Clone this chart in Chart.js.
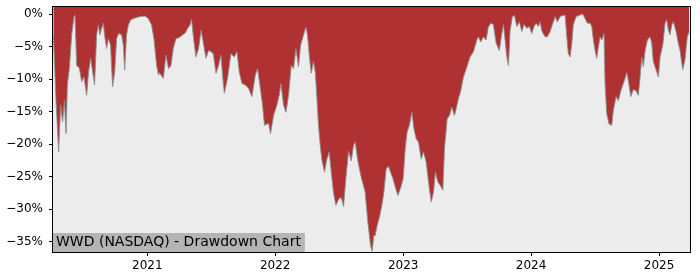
<!DOCTYPE html>
<html><head><meta charset="utf-8">
<script src="https://cdn.jsdelivr.net/npm/chart.js@4"></script>
<style>html,body{margin:0;padding:0;background:#fff}#wrap{width:700px;height:280px}</style>
</head><body><div id="wrap"><canvas id="c" width="700" height="280"></canvas></div>
<script>
// Time in decimal years, drawdown in percent
const dates = [
2020.266,2020.287,2020.307,2020.323,2020.338,2020.352,2020.365,2020.375,2020.391,2020.409,
2020.427,2020.435,2020.448,2020.469,2020.487,2020.505,2020.526,2020.541,2020.557,2020.573,
2020.588,2020.604,2020.617,2020.630,2020.643,2020.656,2020.670,2020.682,2020.695,2020.713,
2020.729,2020.745,2020.760,2020.776,2020.799,2020.813,2020.823,2020.838,2020.852,2020.870,
2020.904,2020.943,2020.982,2021.008,2021.034,2021.052,2021.073,2021.088,
2021.094,2021.125,2021.146,2021.166,2021.185,2021.203,2021.224,2021.250,2021.276,2021.297,
2021.315,2021.334,2021.346,2021.362,2021.380,2021.401,2021.420,2021.438,2021.459,2021.479,
2021.498,2021.516,2021.537,2021.557,2021.576,2021.588,2021.602,2021.627,2021.654,2021.680,
2021.701,2021.719,2021.740,2021.766,2021.791,2021.818,2021.844,2021.862,2021.880,2021.901,
2021.916,
2021.948,2021.963,2021.987,2022.013,2022.031,2022.045,2022.065,2022.084,2022.104,2022.125,
2022.143,2022.162,2022.182,2022.198,2022.213,2022.229,2022.240,2022.252,2022.266,2022.281,
2022.299,2022.313,2022.326,2022.338,2022.352,2022.365,2022.385,2022.404,2022.422,2022.438,
2022.455,2022.474,2022.495,2022.516,2022.534,2022.552,2022.573,2022.594,2022.612,2022.625,
2022.646,2022.672,2022.690,2022.703,2022.724,2022.745,
2022.758,2022.770,2022.781,2022.797,2022.815,2022.834,2022.849,2022.867,2022.885,2022.901,
2022.920,2022.938,2022.959,2022.979,2023.000,2023.016,2023.031,2023.049,2023.068,2023.084,
2023.102,2023.120,2023.141,2023.159,2023.180,2023.198,2023.219,2023.237,2023.252,2023.271,
2023.291,2023.310,2023.323,2023.344,2023.362,2023.380,2023.401,2023.414,2023.432,2023.448,
2023.471,2023.498,2023.523,2023.549,2023.576,2023.588,2023.607,2023.627,2023.648,2023.666,
2023.685,2023.705,2023.727,2023.752,2023.771,2023.784,2023.797,2023.810,2023.823,2023.836,
2023.854,2023.870,2023.888,2023.909,2023.927,2023.945,2023.966,2023.987,2024.005,2024.023,
2024.039,2024.057,2024.070,2024.086,2024.109,2024.127,2024.148,2024.170,2024.188,2024.205,
2024.227,2024.248,2024.266,2024.279,2024.291,2024.305,2024.318,2024.330,2024.352,2024.377,
2024.404,2024.422,2024.440,2024.461,2024.474,2024.487,2024.500,2024.513,2024.526,2024.539,
2024.552,2024.570,2024.578,2024.591,2024.609,2024.630,2024.643,2024.664,2024.682,2024.701,
2024.721,2024.748,2024.760,2024.779,2024.799,2024.820,2024.838,2024.852,2024.865,2024.877,
2024.891,2024.909,2024.930,2024.943,2024.955,2024.977,2024.995,2025.008,2025.029,2025.047,
2025.060,2025.073,2025.086,2025.099,2025.112,2025.133,2025.151,2025.164,2025.185,2025.203,
2025.221,2025.236
];
const drawdown = [
-3.2,-13.5,-21.2,-14.0,-16.6,-13.3,-18.4,-10.9,-8.3,-3.2,
-0.4,-0.2,-7.9,-8.3,-10.4,-9.7,-12.5,-8.9,-6.8,-8.9,
-10.9,-3.2,-1.7,-3.2,-2.2,-1.4,-3.8,-5.3,-3.8,-4.8,
-11.2,-8.9,-3.8,-3.0,-3.2,-4.8,-8.6,-3.2,-1.7,-0.9,
-0.6,-0.4,-0.3,-0.7,-1.7,-3.8,-7.9,-9.4,
-9.0,-9.9,-6.3,-8.4,-7.9,-5.3,-3.8,-3.6,-3.2,-2.9,
-2.2,-1.7,-0.8,-3.8,-6.6,-5.3,-2.5,-4.4,-6.8,-5.6,
-5.8,-6.1,-9.1,-7.9,-6.3,-9.4,-12.2,-9.9,-6.1,-6.6,
-5.8,-8.9,-10.7,-10.9,-11.4,-12.7,-9.4,-8.4,-10.9,-14.0,
-17.1,
-16.8,-18.4,-15.6,-14.0,-12.5,-10.7,-14.0,-15.1,-12.5,-7.9,
-8.4,-5.3,-8.1,-4.8,-3.8,-2.7,-2.0,-3.2,-6.3,-9.1,
-7.3,-8.9,-13.0,-17.1,-20.2,-22.5,-24.3,-22.3,-21.2,-24.3,
-27.4,-29.4,-28.5,-28.2,-29.6,-25.3,-21.1,-22.6,-20.2,-19.7,
-22.6,-25.1,-26.4,-27.4,-32.0,-35.6,
-36.5,-34.1,-34.1,-32.5,-31.2,-29.4,-27.4,-23.8,-23.4,-24.3,
-25.3,-26.6,-27.9,-26.8,-25.3,-20.7,-18.1,-17.1,-15.1,-17.6,
-19.2,-19.7,-22.3,-21.2,-22.8,-25.8,-28.9,-27.4,-24.3,-25.8,
-26.4,-27.1,-20.7,-16.1,-15.6,-14.3,-15.6,-14.6,-13.0,-12.0,
-9.7,-8.1,-6.6,-5.8,-4.0,-3.5,-4.3,-3.5,-4.0,-2.0,
-1.4,-1.6,-4.5,-5.6,-3.0,-1.6,-4.0,-6.6,-7.9,-2.5,
-0.4,-0.2,-1.9,-1.2,-2.7,-1.6,-2.2,-1.9,-3.0,-1.9,
-1.4,-1.9,-1.2,-2.7,-3.5,-3.5,-2.7,-1.4,-0.4,-1.2,
-0.4,-0.2,-0.2,-3.5,-6.1,-6.6,-4.5,-1.6,-0.4,-0.2,
0.0,-0.7,-1.4,-1.4,-1.9,-4.0,-5.6,-6.8,-5.0,-3.5,
-4.0,-3.0,-10.7,-15.3,-16.9,-17.1,-14.8,-12.7,-13.3,-11.8,
-10.7,-9.0,-10.2,-12.7,-11.6,-11.8,-12.5,-9.7,-6.6,-8.1,
-5.6,-4.0,-3.5,-4.5,-7.3,-8.6,-9.7,-6.6,-4.8,-1.4,
-0.9,-2.5,-3.2,-1.7,-1.2,-2.7,-4.5,-5.6,-8.6,-7.0,
-3.5,-2.7
];
const yTicks = [0,-5,-10,-15,-20,-25,-30,-35];
const xTicks = [2021,2022,2023,2024,2025];
const title = 'WWD (NASDAQ) - Drawdown Chart';

const points = dates.map((d,i)=>({x:d,y:drawdown[i]}));

const frame = {
  id:'frame',
  beforeDraw(chart){
    const {ctx, chartArea:a} = chart;
    ctx.save(); ctx.fillStyle='#ececec';
    ctx.fillRect(a.left,a.top,a.right-a.left,a.bottom-a.top);
    ctx.restore();
  },
  afterDatasetsDraw(chart){
    const {ctx, chartArea:a} = chart;
    ctx.save(); ctx.strokeStyle='#000'; ctx.lineWidth=1;
    ctx.strokeRect(Math.round(a.left)-0.5, Math.round(a.top)-0.5, Math.round(a.right-a.left)+1, Math.round(a.bottom-a.top)+1);
    ctx.restore();
  },
  afterDraw(chart){
    const {ctx, chartArea:a} = chart;
    ctx.save();
    ctx.font = '14px "DejaVu Sans"';
    const w = ctx.measureText(title).width;
    ctx.fillStyle = '#b4b4b4';
    ctx.fillRect(a.left, a.bottom-19, w+7, 19);
    ctx.fillStyle = '#000';
    ctx.textBaseline = 'alphabetic';
    ctx.fillText(title, a.left+3, a.bottom-6);
    ctx.restore();
  }
};

Chart.defaults.font.family = '"DejaVu Sans", sans-serif';
Chart.defaults.font.size = 12;
Chart.defaults.color = '#000';

new Chart(document.getElementById('c'), {
  type:'line',
  data:{ datasets:[{
    data: points,
    fill:'end',
    backgroundColor:'#b03131',
    borderColor:'rgba(140,140,140,0.9)',
    borderWidth:1,
    pointRadius:0,
    tension:0
  }]},
  options:{
    responsive:false, animation:false,
    layout:{padding:{left:0,top:7,right:10,bottom:0}},
    plugins:{legend:{display:false},tooltip:{enabled:false}},
    scales:{
      x:{
        type:'linear', min:2020.263, max:2025.242,
        afterBuildTicks(s){ s.ticks = xTicks.map(v=>({value:v})); },
        afterFit(s){ s.height = 28; s.paddingLeft = 0; s.paddingRight = 0; },
        ticks:{ callback:v=>String(v), padding:3, autoSkip:false, maxRotation:0 },
        grid:{ drawOnChartArea:false, drawTicks:true, tickLength:4, color:'#000' },
        border:{ display:false }
      },
      y:{
        type:'linear', min:-36.6, max:1.08,
        afterBuildTicks(s){ s.ticks = yTicks.map(v=>({value:v})); },
        afterFit(s){ s.width = 53; s.paddingTop = 0; s.paddingBottom = 0; },
        ticks:{ callback:v=>(v<0?'\u2212'+Math.abs(v):String(v))+'%', padding:6, autoSkip:false },
        grid:{ drawOnChartArea:false, drawTicks:true, tickLength:4, color:'#000' },
        border:{ display:false }
      }
    }
  },
  plugins:[frame]
});
</script>
</body></html>
